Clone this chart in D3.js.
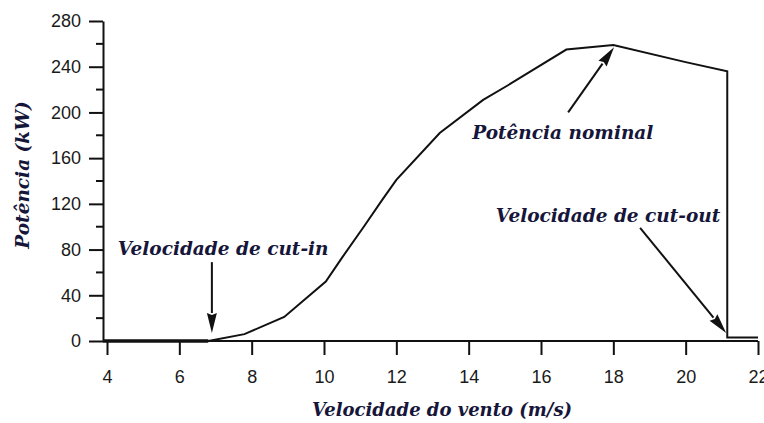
<!DOCTYPE html>
<html><head><meta charset="utf-8">
<script src="https://cdn.jsdelivr.net/npm/d3@7"></script>
<style>
html,body{margin:0;padding:0;background:#fff;}
svg{display:block;}
</style></head>
<body>
<svg id="chart" width="764" height="423"></svg>
<script>
// Data: wind turbine power curve
const windSpeed = [4, 6.8, 7.8, 8.9, 10.05, 10.5, 11.1, 11.6, 12.0, 13.2, 14.4, 15.1, 16.7, 18.0, 20.0, 21.15, 21.15, 22];
const power     = [0, 0,   6,   21,  52,    73,   100,  123,  141,  182,  211,  224,  255,  259,  244,  236,   3,     3];
const xTicks = [4, 6, 8, 10, 12, 14, 16, 18, 20, 22];
const yTicks = [0, 40, 80, 120, 160, 200, 240, 280];
const yMinorTicks = [20, 60, 100, 140, 180, 220, 260];
const xTitle = "Velocidade do vento (m/s)";
const yTitle = "Potência (kW)";
// annotations: label, label anchor (data), arrow tail (data), arrow tip (data)
const annLabels = ["Velocidade de cut-in", "Potência nominal", "Velocidade de cut-out"];
const annLabelPos = [[4.3, 81], [14.1, 182], [14.75, 110]];
const annTail = [[6.9, 69], [16.75, 200], [18.74, 99]];
const annTip  = [[6.9, 7], [18.02, 257], [21.12, 7]];

const svg = d3.select("#chart");
const x = d3.scaleLinear().domain([4, 22]).range([107, 758]);
const y = d3.scaleLinear().domain([0, 280]).range([341, 21]);
const yAxisX = 103;

const tickFont = "'Liberation Sans', Arial, sans-serif";
const titleFont = "'DejaVu Serif', serif";
const titleColor = "#16163a";

// X axis
const xAxis = svg.append("g").attr("transform", `translate(0,${y(0)})`)
  .call(d3.axisBottom(x).tickValues(xTicks).tickFormat(d3.format("d")).tickSize(14).tickSizeOuter(0));
xAxis.select(".domain").attr("d", `M${yAxisX},0H${x(22)}`).attr("stroke", "#111").attr("stroke-width", 2);
xAxis.selectAll(".tick line").attr("stroke", "#111").attr("stroke-width", 2);
xAxis.selectAll(".tick text").attr("font-family", tickFont).attr("font-size", 18)
  .attr("fill", "#1a1a1a").attr("y", 29).attr("dy", "0.71em");

// Y axis
const yAxis = svg.append("g").attr("transform", `translate(${yAxisX},0)`)
  .call(d3.axisLeft(y).tickValues(yTicks).tickFormat(d3.format("d")).tickSize(14).tickSizeOuter(0).tickPadding(8));
yAxis.select(".domain").attr("stroke", "#111").attr("stroke-width", 2);
yAxis.selectAll(".tick line").attr("stroke", "#111").attr("stroke-width", 2);
yAxis.selectAll(".tick text").attr("font-family", tickFont).attr("font-size", 18)
  .attr("fill", "#1a1a1a");
svg.append("g").selectAll("line").data(yMinorTicks).join("line")
  .attr("x1", yAxisX - 7).attr("x2", yAxisX).attr("y1", d => y(d)).attr("y2", d => y(d))
  .attr("stroke", "#111").attr("stroke-width", 2);

// Power curve
const line = d3.line().x((d, i) => x(windSpeed[i])).y((d, i) => y(power[i]));
svg.append("path").datum(power).attr("d", line)
  .attr("fill", "none").attr("stroke", "#111").attr("stroke-width", 2).attr("stroke-linejoin", "miter");
// thick flat part before cut-in
svg.append("line").attr("x1", yAxisX).attr("x2", x(6.8)).attr("y1", y(0)).attr("y2", y(0))
  .attr("stroke", "#111").attr("stroke-width", 3.5);

// Axis titles
svg.append("text").attr("x", 442).attr("y", 416).attr("text-anchor", "middle")
  .attr("font-family", titleFont).attr("font-style", "italic").attr("font-weight", "bold")
  .attr("font-size", 18).attr("fill", titleColor).text(xTitle);
svg.append("text").attr("transform", "translate(29,175) rotate(-90)").attr("text-anchor", "middle")
  .attr("font-family", titleFont).attr("font-style", "italic").attr("font-weight", "bold")
  .attr("font-size", 18.5).attr("fill", titleColor).text(yTitle);

// Annotations
annLabels.forEach((lab, i) => {
  svg.append("text").attr("x", x(annLabelPos[i][0])).attr("y", y(annLabelPos[i][1]))
    .attr("dy", "0.35em").attr("font-family", titleFont).attr("font-style", "italic")
    .attr("font-weight", "bold").attr("font-size", 18.5).attr("fill", titleColor).text(lab);
  const x0 = x(annTail[i][0]), y0 = y(annTail[i][1]);
  const x1 = x(annTip[i][0]), y1 = y(annTip[i][1]);
  const ang = Math.atan2(y1 - y0, x1 - x0);
  const L = 20, W = 5;
  const bx = x1 - L * Math.cos(ang), by = y1 - L * Math.sin(ang);
  svg.append("line").attr("x1", x0).attr("y1", y0).attr("x2", bx).attr("y2", by)
    .attr("stroke", "#111").attr("stroke-width", 2);
  const px = -Math.sin(ang), py = Math.cos(ang);
  svg.append("path")
    .attr("d", `M${x1},${y1}L${bx + W * px},${by + W * py}L${bx + 2 * Math.cos(ang)},${by + 2 * Math.sin(ang)}L${bx - W * px},${by - W * py}Z`)
    .attr("fill", "#111");
});
</script>
</body></html>
